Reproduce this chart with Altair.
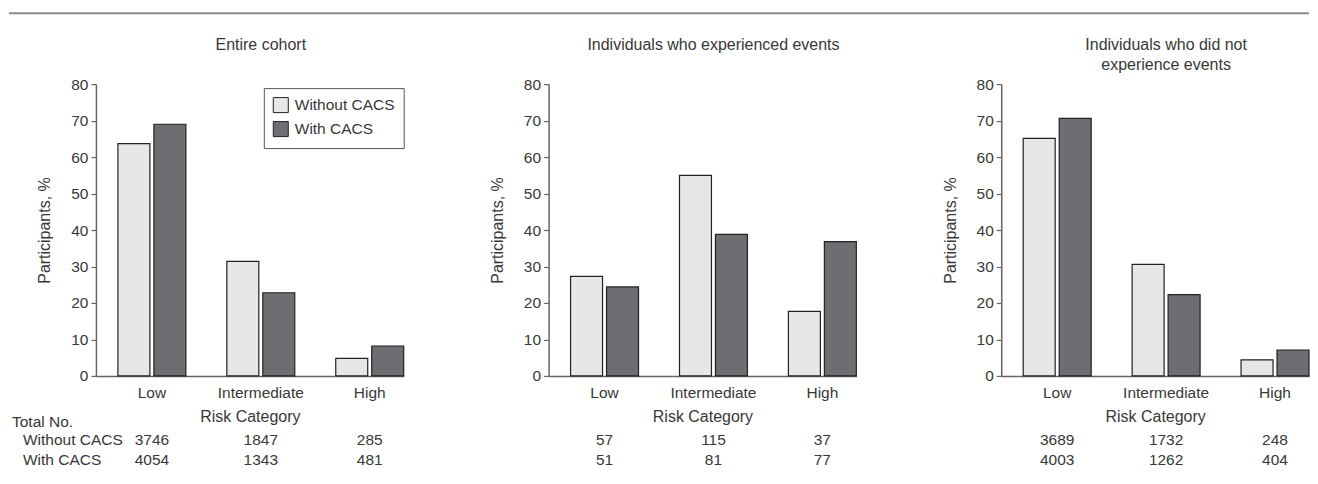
import altair as alt
import pandas as pd

categories = ["Low", "Intermediate", "High"]
groups = ["Without CACS", "With CACS"]
panel_titles = [
    "Entire cohort",
    "Individuals who experienced events",
    "Individuals who did not\nexperience events",
]

entire_without = [63.7, 31.4, 4.8]
entire_with = [69.0, 22.8, 8.2]
events_without = [27.3, 55.0, 17.7]
events_with = [24.4, 38.8, 36.8]
noevents_without = [65.1, 30.6, 4.4]
noevents_with = [70.6, 22.3, 7.1]

entire_n_without = ["3746", "1847", "285"]
entire_n_with = ["4054", "1343", "481"]
events_n_without = ["57", "115", "37"]
events_n_with = ["51", "81", "77"]
noevents_n_without = ["3689", "1732", "248"]
noevents_n_with = ["4003", "1262", "404"]

row_labels = ["Total No.", "Without CACS", "With CACS"]

FONT = "Liberation Sans"
TXT = "#383838"
AX = "#666666"
W, H = 308, 292
FS = 15.5


def panel(title, v_without, v_with, n_without, n_with, first=False):
    df = pd.DataFrame({
        "Risk Category": categories * 2,
        "Group": [groups[0]] * 3 + [groups[1]] * 3,
        "Participants": v_without + v_with,
    })
    xscale = alt.Scale(domain=categories, paddingInner=0.3761, paddingOuter=0.1009, align=1)
    xaxis = alt.Axis(title="Risk Category", labelAngle=0, ticks=False, tickSize=0,
                     domainColor=AX, domainWidth=1.5, labelFontSize=FS, labelPadding=10,
                     titleFontSize=16, titleFontWeight="normal", titlePadding=7,
                     labelColor=TXT, titleColor=TXT, labelFont=FONT, titleFont=FONT)
    yaxis = alt.Axis(title="Participants, %", values=list(range(0, 81, 10)), tickSize=5,
                     tickColor=AX, tickWidth=1.2, domainColor=AX, domainWidth=1.5, grid=False,
                     labelPadding=3, labelFontSize=FS, labelColor=TXT, labelFont=FONT,
                     titleFontSize=16, titleFontWeight="normal", titlePadding=18,
                     titleColor=TXT, titleFont=FONT)
    if first:
        legend = alt.Legend(title=None, orient="none", legendX=W - 140, legendY=4,
                            strokeColor="#555555", padding=9, rowPadding=4,
                            symbolType="square", symbolSize=225, symbolStrokeColor="#222222",
                            symbolStrokeWidth=1, labelFontSize=FS, labelColor=TXT,
                            labelFont=FONT, labelOffset=6)
    else:
        legend = None
    bars = alt.Chart(df).mark_bar(stroke="#222222", strokeWidth=1.2).encode(
        x=alt.X("Risk Category:N", scale=xscale, sort=categories, axis=xaxis),
        xOffset=alt.XOffset("Group:N", sort=groups,
                            scale=alt.Scale(domain=groups, paddingInner=0.111, paddingOuter=0)),
        y=alt.Y("Participants:Q", scale=alt.Scale(domain=[0, 80]), axis=yaxis),
        color=alt.Color("Group:N", sort=groups,
                        scale=alt.Scale(domain=groups, range=["#e6e7e9", "#6d6e71"]),
                        legend=legend),
    )
    ndf = pd.DataFrame({"Risk Category": categories, "nw": n_without, "nc": n_with})
    tx = dict(font=FONT, fontSize=FS, color=TXT, baseline="middle")
    n1 = alt.Chart(ndf).mark_text(**tx).encode(
        x=alt.X("Risk Category:N", scale=xscale, sort=categories, axis=xaxis),
        y=alt.value(356), text="nw:N")
    n2 = alt.Chart(ndf).mark_text(**tx).encode(
        x=alt.X("Risk Category:N", scale=xscale, sort=categories, axis=xaxis),
        y=alt.value(376), text="nc:N")
    tdf = pd.DataFrame({"t": [title]})
    ttl = alt.Chart(tdf).mark_text(lineBreak="\n", lineHeight=20,
                                   font=FONT, fontSize=16, color=TXT, baseline="middle").encode(
        x=alt.value(W / 2 + 11), y=alt.value(-39), text="t:N")
    layers = [bars, n1, n2, ttl]
    if first:
        for i, lab in enumerate(row_labels):
            layers.append(
                alt.Chart(pd.DataFrame({"lab": [lab]})).mark_text(align="left", **tx).encode(
                    x=alt.value([-84, -73, -73][i]), y=alt.value([338, 356, 376][i]), text="lab:N"))
        layers.append(
            alt.Chart(pd.DataFrame({"a": [0]})).mark_rule(color="#8c8c8c", strokeWidth=2).encode(
                x=alt.value(-87), x2=alt.value(1309 - 95), y=alt.value(-71)))
    return alt.layer(*layers).properties(width=W, height=H)


p1 = panel(panel_titles[0], entire_without, entire_with, entire_n_without, entire_n_with, first=True)
p2 = panel(panel_titles[1], events_without, events_with, events_n_without, events_n_with)
p3 = panel(panel_titles[2], noevents_without, noevents_with, noevents_n_without, noevents_n_with)

chart = alt.hconcat(p1, p2, p3, spacing=145, bounds="flush").resolve_scale(
    color="independent").resolve_legend(color="independent")
chart = chart.properties(padding={"left": 0, "top": 4, "right": 0, "bottom": 0}).configure_view(stroke=None)

chart.save("out.html", embed_options={"renderer": "svg", "actions": False})
